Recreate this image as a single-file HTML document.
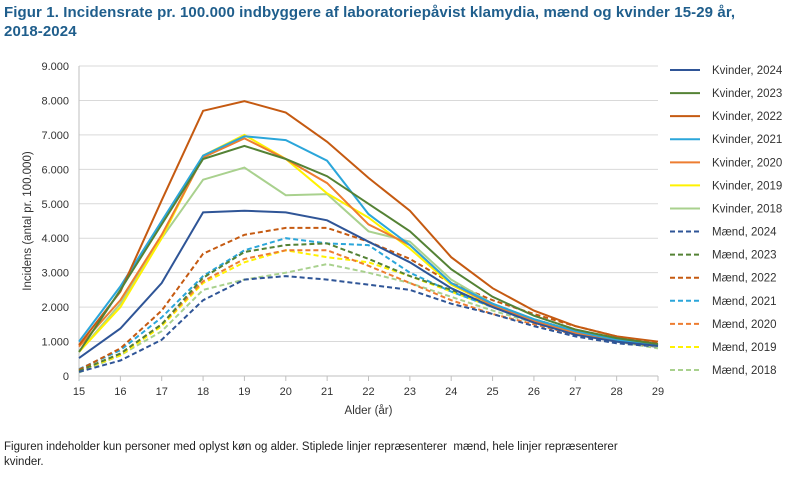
<!DOCTYPE html>
<html><head><meta charset="utf-8"><style>
body{margin:0;background:#fff;font-family:"Liberation Sans",sans-serif;}
#wrap{position:relative;width:800px;height:477px;overflow:hidden;}
.title{position:absolute;left:4px;top:3px;font-size:15px;font-weight:bold;color:#1F5E8C;line-height:19px;width:795px;letter-spacing:0.1px;}
.note{position:absolute;left:4px;top:440px;font-size:11.5px;color:#222;line-height:15px;width:790px;}
</style></head><body>
<div id="wrap">
<div class="title">Figur 1. Incidensrate pr. 100.000 indbyggere af laboratoriepåvist klamydia, mænd og kvinder 15-29 år,<br>2018-2024</div>
<svg id="chart" width="800" height="477" style="position:absolute;left:0;top:0"></svg>
<div class="note">Figuren indeholder kun personer med oplyst køn og alder. Stiplede linjer repræsenterer&nbsp; mænd, hele linjer repræsenterer<br>kvinder.</div>
</div>
<script>
const ages=[15,16,17,18,19,20,21,22,23,24,25,26,27,28,29];
const yTicks=[0,1000,2000,3000,4000,5000,6000,7000,8000,9000];
const yTickLabels=["0","1.000","2.000","3.000","4.000","5.000","6.000","7.000","8.000","9.000"];
const seriesNames=["Kvinder, 2024","Kvinder, 2023","Kvinder, 2022","Kvinder, 2021","Kvinder, 2020","Kvinder, 2019","Kvinder, 2018","Mænd, 2024","Mænd, 2023","Mænd, 2022","Mænd, 2021","Mænd, 2020","Mænd, 2019","Mænd, 2018"];
const k2024=[520,1380,2700,4750,4800,4750,4520,3900,3300,2550,2000,1550,1200,1000,870];
const k2023=[700,2500,4400,6300,6680,6300,5800,5000,4200,3100,2300,1750,1350,1100,930];
const k2022=[900,2450,5100,7700,7980,7650,6800,5750,4800,3450,2550,1900,1450,1150,1000];
const k2021=[1000,2600,4500,6400,6960,6850,6250,4700,3800,2700,2100,1650,1300,1050,900];
const k2020=[850,2200,4100,6350,6900,6300,5600,4400,3800,2700,2050,1600,1250,1050,900];
const k2019=[700,2000,4000,6400,7000,6300,5300,4600,3700,2650,2050,1600,1250,1050,880];
const k2018=[700,2100,4000,5700,6050,5250,5280,4200,3900,2800,2100,1650,1300,1050,850];
const m2024=[120,450,1050,2200,2800,2900,2800,2650,2500,2100,1800,1450,1150,950,850];
const m2023=[150,650,1500,2850,3600,3800,3850,3400,2900,2500,2050,1650,1300,1050,900];
const m2022=[180,800,1900,3550,4100,4300,4300,3900,3400,2700,2200,1800,1450,1150,950];
const m2021=[200,750,1700,2900,3650,4000,3850,3800,3000,2450,2000,1600,1300,1050,900];
const m2020=[150,650,1500,2750,3400,3650,3650,3200,2700,2200,1800,1500,1200,1000,850];
const m2019=[150,600,1450,2700,3300,3650,3450,3300,2900,2450,2000,1600,1250,1050,850];
const m2018=[100,600,1300,2500,2800,3000,3250,3000,2700,2300,1900,1550,1250,1000,800];
const allSeries=[k2024,k2023,k2022,k2021,k2020,k2019,k2018,m2024,m2023,m2022,m2021,m2020,m2019,m2018];
const colors=["#2F5597","#548235","#C55A11","#2BA6DA","#ED7D31","#FFF200","#A9D18E"];
const NS="http://www.w3.org/2000/svg";
const svg=document.getElementById('chart');
const X0=79,X1=658,Y0=376,Y1=66;
const xs=a=>X0+(a-ages[0])/(ages[ages.length-1]-ages[0])*(X1-X0);
const ys=v=>Y0-v/9000*(Y0-Y1);
function mk(t,at){const e=document.createElementNS(NS,t);for(const k in at)e.setAttribute(k,at[k]);svg.appendChild(e);return e;}
yTicks.forEach((v,i)=>{
  if(v>0){const g=mk('line',{x1:X0,x2:X1,y1:ys(v),y2:ys(v),stroke:'#d9d9d9','stroke-width':1});
  
  }
  const t=mk('text',{x:X0-10,y:ys(v)+4,'text-anchor':'end','font-size':11,fill:'#333'});
  t.textContent=yTickLabels[i];
  
  
});
const ax=mk('line',{x1:X0,x2:X0,y1:Y1,y2:Y0,stroke:'#bfbfbf'});


const bx=mk('line',{x1:X0,x2:X1,y1:Y0,y2:Y0,stroke:'#bfbfbf'});


ages.forEach(a=>{
  const tk=mk('line',{x1:xs(a),x2:xs(a),y1:Y0,y2:Y0+5,stroke:'#bfbfbf'});
  
  
  const t=mk('text',{x:xs(a),y:Y0+19,'text-anchor':'middle','font-size':11,fill:'#333'});
  t.textContent=a;
  
  
});
const xt=mk('text',{x:(X0+X1)/2,y:414,'text-anchor':'middle','font-size':11.5,fill:'#333'});
xt.textContent='Alder (år)';


const yt=mk('text',{x:0,y:0,'text-anchor':'middle','font-size':11.5,fill:'#333',transform:`translate(31,${(Y0+Y1)/2}) rotate(-90)`});
yt.textContent='Incidens (antal pr. 100.000)';


for(let s=allSeries.length-1;s>=0;s--){
  const d=allSeries[s].map((v,i)=>(i?'L':'M')+xs(ages[i]).toFixed(1)+','+ys(v).toFixed(1)).join(' ');
  const dashed=s>=7;
  const p=mk('path',{d:d,fill:'none',stroke:colors[s%7],'stroke-width':2,'stroke-dasharray':dashed?'5,3':'none'});
  
  
}
seriesNames.forEach((n,s)=>{
  const y=70+s*23.08;
  const l=mk('line',{x1:670,x2:700,y1:y,y2:y,stroke:colors[s%7],'stroke-width':2,'stroke-dasharray':s>=7?'5,3':'none'});
  
  
  const t=mk('text',{x:712,y:y+4,'font-size':11.5,fill:'#333'});
  t.textContent=n;
  
  
});
</script>
</body></html>
